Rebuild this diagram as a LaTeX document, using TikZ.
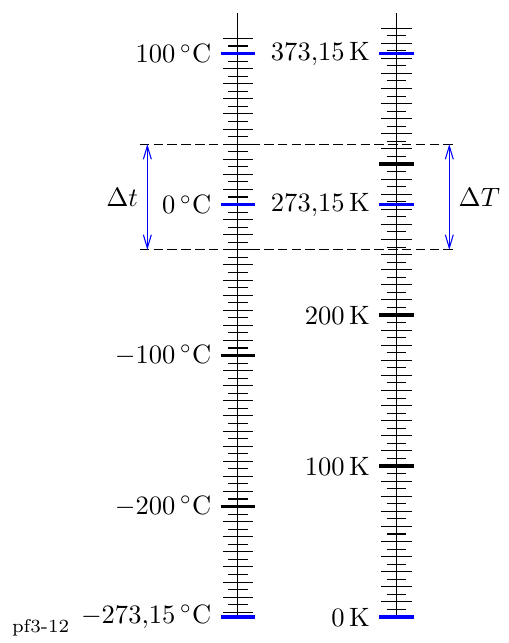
\documentclass[tikz,border=0pt]{standalone}
\usepackage{amsmath}
\usepackage{xcolor}
\usepackage{tikz}
\usetikzlibrary{arrows.meta}

\begin{document}
\begin{tikzpicture}[x=1cm, y=0.02cm,
    scaletick/.style={line width=0.4pt},
    marktick/.style={very thick},
    fixtick/.style={very thick, blue},
    scalelabel/.style={anchor=east},
    limitline/.style={dash pattern=on 3.6pt off 1.6pt},
    deltaarrow/.style={blue, {Straight Barb[length=5pt,width=3pt]}-{Straight Barb[length=5pt,width=3pt]}},
]
    \useasboundingbox (-3.152,-17.2) rectangle (3.589,408.6);

    % Celsius scale at x=0, Kelvin scale at x=2.1, y counted in kelvin
    \draw (0,0) -- (0,400);
    \draw (2.1,0) -- (2.1,400);

    \foreach \c in {-270,-260,...,110}
        \draw[scaletick] (-0.2,{\c+273.15}) -- (0.2,{\c+273.15});
    \foreach \c in {-265,-255,...,105}
        \draw[scaletick] (-0.13,{\c+273.15}) -- (0.13,{\c+273.15});
    \foreach \k in {10,20,...,390}
        \draw[scaletick] (1.9,\k) -- (2.3,\k);
    \foreach \k in {5,15,...,385}
        \draw[scaletick] (1.97,\k) -- (2.23,\k);

    % Celsius marks
    \draw[fixtick] (-0.23,373.15) -- (0.23,373.15);
    \node[scalelabel] (c100) at (-0.23,373.15) {$100\,^\circ\mathrm{C}$};
    \draw[fixtick] (-0.23,273.15) -- (0.23,273.15);
    \node[scalelabel] (c0) at (-0.23,273.15) {$0\,^\circ\mathrm{C}$};
    \draw[marktick] (-0.23,173.15) -- (0.23,173.15);
    \node[scalelabel] (cm100) at (-0.23,173.15) {$-100\,^\circ\mathrm{C}$};
    \draw[marktick] (-0.23,73.15) -- (0.23,73.15);
    \node[scalelabel] (cm200) at (-0.23,73.15) {$-200\,^\circ\mathrm{C}$};
    \draw[fixtick] (-0.23,0) -- (0.23,0);
    \node[scalelabel] (cabs) at (-0.23,0) {$-273{,}15\,^\circ\mathrm{C}$};

    % Kelvin marks
    \draw[fixtick] (1.87,373.15) -- (2.33,373.15);
    \node[scalelabel] (k373) at (1.87,373.15) {$373{,}15\,\mathrm{K}$};
    \draw[marktick] (1.87,300) -- (2.33,300);
    \draw[fixtick] (1.87,273.15) -- (2.33,273.15);
    \node[scalelabel] (k273) at (1.87,273.15) {$273{,}15\,\mathrm{K}$};
    \draw[marktick] (1.87,200) -- (2.33,200);
    \node[scalelabel] (k200) at (1.87,200) {$200\,\mathrm{K}$};
    \draw[marktick] (1.87,100) -- (2.33,100);
    \node[scalelabel] (k100) at (1.87,100) {$100\,\mathrm{K}$};
    \draw[fixtick] (1.87,0) -- (2.33,0);
    \node[scalelabel] (k0) at (1.87,0) {$0\,\mathrm{K}$};

    % interval from -30 C to 40 C
    \coordinate (upL) at (-1.3,313.15);
    \coordinate (upR) at (2.9,313.15);
    \coordinate (loL) at (-1.3,243.15);
    \coordinate (loR) at (2.9,243.15);
    \draw[limitline] (upL) -- (upR);
    \draw[limitline] (loL) -- (loR);

    \coordinate (tUp) at (-1.2,313.15);
    \coordinate (tLo) at (-1.2,243.15);
    \coordinate (TUp) at (2.8,313.15);
    \coordinate (TLo) at (2.8,243.15);
    \draw[deltaarrow] (tUp) -- (tLo) node[midway, left, text=black] (dt) {$\Delta t$};
    \draw[deltaarrow] (TUp) -- (TLo) node[midway, right, text=black] (dT) {$\Delta T$};

    \node[font=\scriptsize, anchor=base west, inner sep=0pt] (tag) at (-3.0,-10.4) {pf3-12};
\end{tikzpicture}
\end{document}
